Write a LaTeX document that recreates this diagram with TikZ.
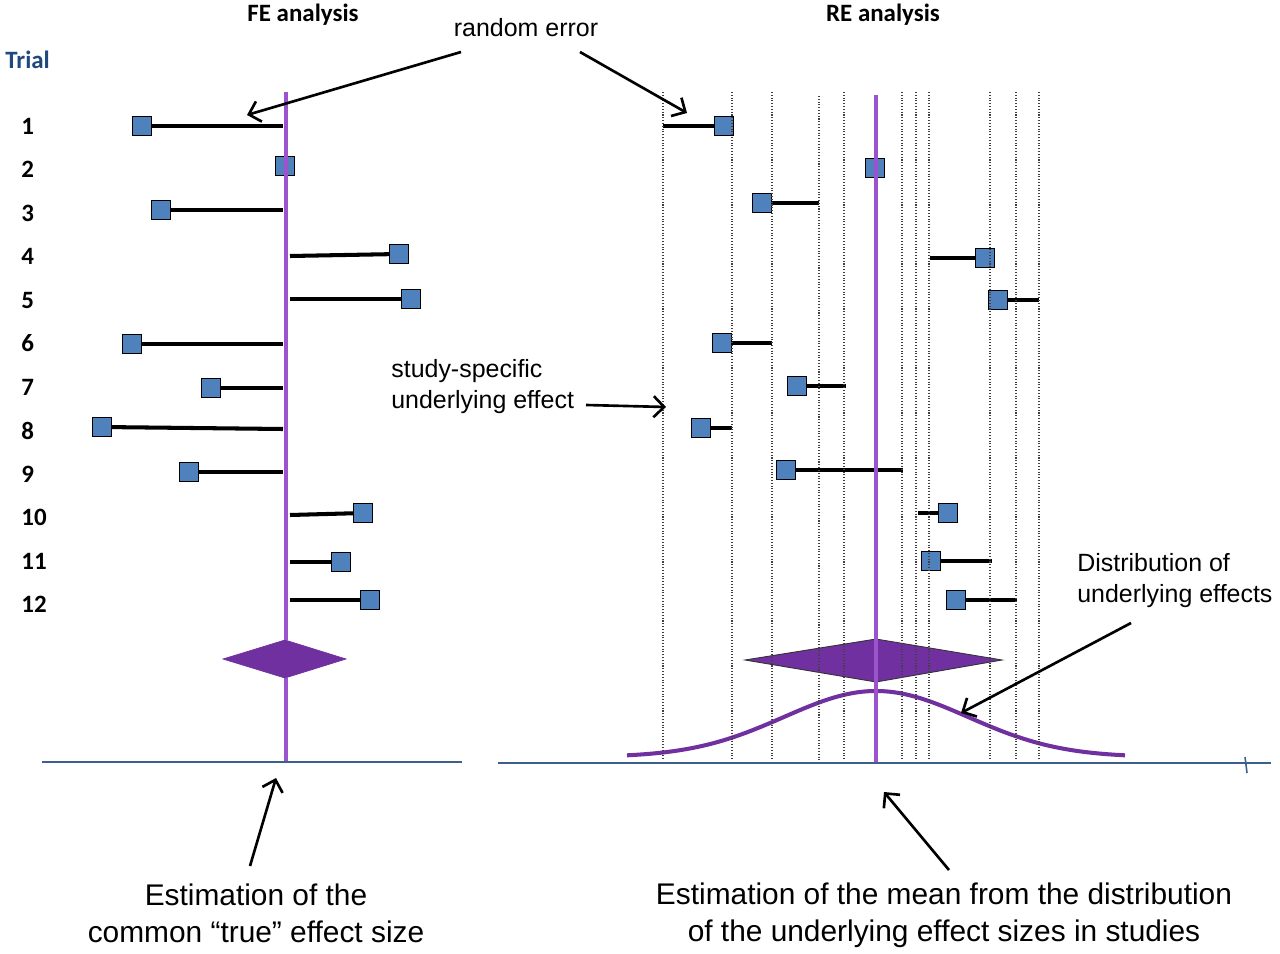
\documentclass[tikz,border=0pt]{standalone}
\usepackage{fontspec}
\setmainfont{Liberation Sans}
\newfontfamily\calib{Carlito}
\usetikzlibrary{arrows.meta,positioning,calc}

\definecolor{boxblue}{RGB}{79,129,189}
\definecolor{lilac}{RGB}{155,84,206}
\definecolor{plum}{RGB}{112,48,160}
\definecolor{axisblue}{RGB}{60,95,140}
\definecolor{trialblue}{RGB}{31,73,125}

\begin{document}
\begin{tikzpicture}[x=0.02cm,y=-0.02cm,
    study/.style={draw=black,line width=0.7pt,fill=boxblue,minimum size=0.37cm,inner sep=0pt},
    ci/.style={black,line width=2.3pt},
    guide/.style={densely dotted,black!75,line width=0.6pt},
    note/.style={font=\fontsize{14.2}{17.6}\selectfont,align=left,inner sep=0pt},
    big/.style={font=\fontsize{17}{21}\selectfont,align=center,inner sep=0pt},
    head/.style={font=\calib\bfseries\fontsize{14.2}{16}\selectfont,inner sep=0pt},
    pointer/.style={-{Straight Barb[length=6pt,width=12pt]},line width=1.5pt}]
  \useasboundingbox (0,0) rectangle (1280,953);

  % headings and trial numbers
  \node[head] (fe) at (303,15) {FE analysis};
  \node[head] (re) at (883,15) {RE analysis};
  \node[head,text=trialblue,anchor=west] (trial) at (5,60) {Trial};
  \foreach \i in {1,...,12}
    \node[head,anchor=west] (t\i) at (21,{126+43.5*(\i-1)}) {\i};

  % FE analysis
  \draw[plum,fill=plum] (223,659) -- (285,640) -- (346,659) -- (285,678) -- cycle;
  \foreach \i/\y/\x/\e/\ey in {1/126/142/283/126,3/210/161/283/210,4/254/399/290/256,
      5/299/411/290/299,6/344/132/283/344,7/388/211/283/388,8/427/102/283/429,
      9/472/189/283/472,10/513/363/290/515,11/562/341/290/562,12/600/370/290/600}{
    \node[study] (fe\i) at (\x,\y) {};
    \draw[ci] (fe\i) -- (\e,\ey);
  }
  \node[study] (fe2) at (285,166) {};
  \draw[lilac,line width=2.8pt] (286,92) -- (286,640);
  \draw[lilac,line width=2.8pt] (286,678) -- (286,762);
  \draw[axisblue,line width=0.9pt] (42,762) -- (462,762);

  % RE analysis
  \draw[plum,fill=plum,draw=black!80,line width=0.5pt] (745,660) -- (876,639) -- (1002,660) -- (876,682) -- cycle;
  \draw[plum,line width=2.3pt] plot[domain=627:1125,samples=150]
    (\x,{757-66*exp(-((\x-876)/92)*((\x-876)/92)/2)});
  \foreach \i/\y/\x/\e in {1/126/724/663,3/203/762/819,4/258/985/930,5/300/998/1039,
      6/343/722/772,7/386/797/846,8/428/701/732,9/470/786/903,10/513/948/918,
      11/561/931/992,12/600/956/1017}{
    \node[study] (re\i) at (\x,\y) {};
    \draw[ci] (re\i) -- (\e,\y);
  }
  \node[study] (re2) at (875,168) {};
  \foreach \x in {663,732,772,844,902,916,929,990,1016,1039}
    \draw[guide] (\x,92) -- (\x,760);
  \draw[guide] (819,96) -- (819,760);
  \draw[lilac,line width=2.8pt] (876,95) -- (876,762);
  \draw[axisblue,line width=0.9pt] (498,763) -- (1271,763);
  \draw[axisblue,line width=0.9pt] (1245,757) -- (1247,773);

  % labels
  \node[note] (rnd) at (526,28) {random error};
  \coordinate (rnd1) at (461,52);
  \coordinate (rnd2) at (580,52);
  \coordinate (err1) at (247,115);
  \coordinate (err2) at (687,113);
  \draw[pointer] (rnd1) -- (err1);
  \draw[pointer] (rnd2) -- (err2);

  \node[note,anchor=west] (spec) at (391,387) {study-specific\\underlying effect};
  \coordinate (spec1) at (586,405);
  \coordinate (spec2) at (666,407);
  \draw[pointer] (spec1) -- (spec2);

  \node[note,anchor=west] (dist) at (1077,581) {Distribution of\\underlying effects};
  \coordinate (dist1) at (1131,623);
  \coordinate (dist2) at (961,713);
  \draw[pointer] (dist1) -- (dist2);

  \node[big] (common) at (256,913) {Estimation of the\\common “true” effect size};
  \coordinate (common1) at (250,866);
  \coordinate (common2) at (276,778);
  \draw[pointer] (common1) -- (common2);

  \node[big] (mean) at (944,915) {Estimation of the mean from the distribution\\of the underlying effect sizes in studies};
  \coordinate (mean1) at (949,870);
  \coordinate (mean2) at (884,792);
  \draw[pointer] (mean1) -- (mean2);
\end{tikzpicture}
\end{document}
